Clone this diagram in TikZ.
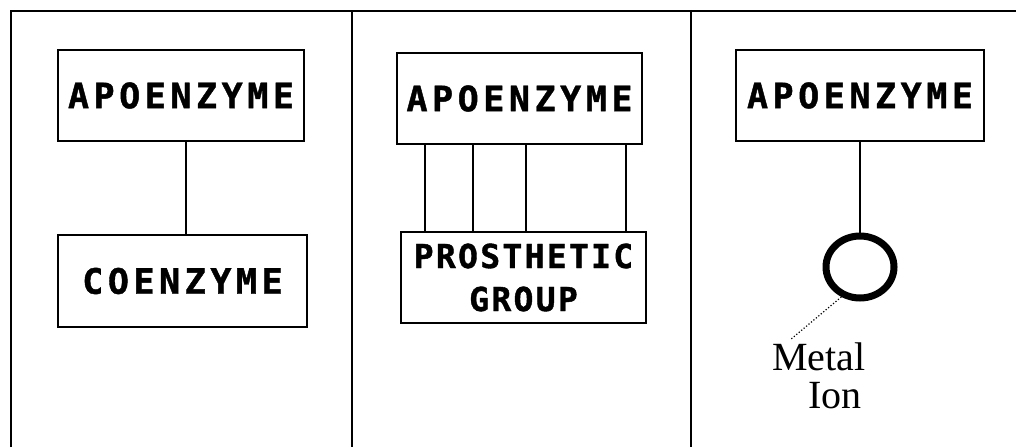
\documentclass[tikz,border=0pt]{standalone}
\usepackage{fontspec}
\usetikzlibrary{shapes.geometric}
\newfontfamily\boxfont{DejaVu Sans Mono Bold}[LetterSpace=13,FakeBold=1.2]
\newfontfamily\boxfontn{DejaVu Sans Mono Bold}[LetterSpace=7,FakeBold=1.2]
\newfontfamily\labfont{Liberation Serif}
\begin{document}
\begin{tikzpicture}[x=1pt,y=-1pt,
  frame/.style={line width=2.4pt},
  enzbox/.style={draw,line width=2pt,minimum height=91pt,inner sep=0pt,
    font=\boxfont\fontsize{35}{40}\selectfont},
  link/.style={line width=2pt},
  lab/.style={font=\labfont\fontsize{40}{38}\selectfont,inner sep=0pt,anchor=base}]
\useasboundingbox (0,0) rectangle (1016,447);
% frame
\draw[frame] (11,447) -- (11,11) -- (1016,11);
\draw[frame] (352,11) -- (352,447);
\draw[frame] (691,11) -- (691,447);
% panel 1
\node[enzbox,minimum width=246pt] (apo1) at (181,95.5) {APOENZYME};
\node[enzbox,minimum width=249pt,minimum height=92pt] (coe1) at (182.5,281) {COENZYME};
\draw[link] ([xshift=5pt]apo1.south) -- ([xshift=5pt]apo1.south |- coe1.north);
% panel 2
\node[enzbox,minimum width=245pt] (apo2) at (519.5,98.5) {APOENZYME};
\node[enzbox,minimum width=245pt,align=center,
  font=\boxfontn\fontsize{33}{43}\selectfont] (pro2) at (523.5,277.5) {PROSTHETIC\\GROUP};
\foreach \dx in {29,77,130,230}
  \draw[link] ([xshift=\dx pt]apo2.south west) -- ([xshift=\dx pt]apo2.south west |- pro2.north);
% panel 3
\node[enzbox,minimum width=248pt] (apo3) at (860,95.5) {APOENZYME};
\node[draw,ellipse,line width=7pt,minimum width=68pt,minimum height=62pt,inner sep=0pt] (ion) at (860,267) {};
\draw[link] (apo3.south) -- (ion.north);
\node[lab] (metal) at (819,370) {Metal};
\node[lab] (ionlab) at (835,408) {Ion};
\coordinate (tip) at (790,340);
\draw[line width=1.2pt,dotted] (ion.-122) -- (tip);
\end{tikzpicture}
\end{document}
